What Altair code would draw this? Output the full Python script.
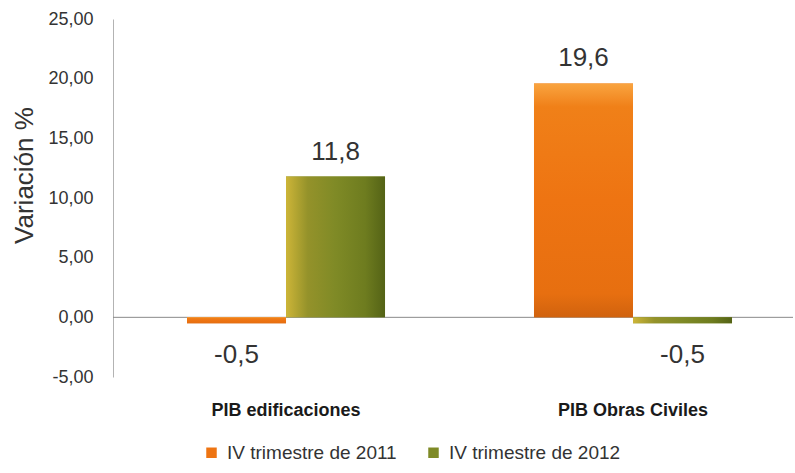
import altair as alt
import pandas as pd

categories = ["PIB edificaciones", "PIB Obras Civiles"]
series = ["IV trimestre de 2011", "IV trimestre de 2012"]
values_2011 = [-0.5, 19.6]
values_2012 = [11.8, -0.5]
y_ticks = [-5, 0, 5, 10, 15, 20, 25]
colors = ["#EE7412", "#7E8A26"]

rows = []
for c, v1, v2 in zip(categories, values_2011, values_2012):
    for s, v in zip(series, [v1, v2]):
        rows.append({"cat": c, "serie": s, "val": v,
                     "lbl": f"{v:.1f}".replace(".", ",")})
df = pd.DataFrame(rows)

FONT = "Liberation Sans"
TXT = "#333333"
W, H = 680, 358

x_enc = alt.X("cat:N", sort=categories, title=None,
              scale=alt.Scale(domain=categories, paddingInner=0.0778,
                              paddingOuter=0.01875, align=1),
              axis=alt.Axis(labelFontWeight="bold", labelFont=FONT, labelFontSize=18,
                            labelColor="#1a1a1a", labelPadding=24, domain=False,
                            ticks=False, labelAngle=0, labelLimit=400))
xo_enc = alt.XOffset("serie:N", sort=series,
                     scale=alt.Scale(domain=series, paddingInner=0, paddingOuter=0.616))
y_enc = alt.Y("val:Q", scale=alt.Scale(domain=[-5, 25], nice=False),
              axis=alt.Axis(values=y_ticks, grid=False, ticks=False,
                            labelExpr="(datum.value < 0 ? '-' : '') + replace(format(abs(datum.value), '.2f'), '.', ',')",
                            labelFont=FONT, labelFontSize=18, labelColor=TXT, labelPadding=20,
                            domainColor="#b3b3b3", domainWidth=1,
                            title="Variación %", titleFont=FONT, titleFontSize=26,
                            titleFontWeight="normal", titleColor=TXT,
                            titleX=-89, titleY=156, titleBaseline="middle", titleAngle=-90))

base = alt.Chart(df)

zero = alt.Chart(pd.DataFrame({"z": [0]})).mark_rule(color="#8a8a8a", strokeWidth=1).encode(
    y=alt.Y("z:Q"))

bars = base.mark_bar().encode(
    x=x_enc, xOffset=xo_enc, y=y_enc,
    color=alt.Color("serie:N", sort=series,
                    scale=alt.Scale(domain=series, range=colors),
                    legend=alt.Legend(title=None, orient="none", direction="horizontal",
                                      legendX=89, legendY=424, symbolType="square",
                                      symbolSize=110, symbolStrokeWidth=0,
                                      labelFont=FONT, labelFontSize=19, labelColor=TXT,
                                      labelOffset=6, columnPadding=27, padding=0,
                                      labelLimit=300)))

grad_orange = alt.Gradient(
    gradient="linear", x1=0, x2=0, y1=0, y2=1,
    stops=[alt.GradientStop(color="#F9A440", offset=0),
           alt.GradientStop(color="#F08018", offset=0.1),
           alt.GradientStop(color="#EE7412", offset=0.5),
           alt.GradientStop(color="#E76F10", offset=0.9),
           alt.GradientStop(color="#D0620E", offset=1)])
grad_green = alt.Gradient(
    gradient="linear", x1=0, x2=1, y1=0, y2=0,
    stops=[alt.GradientStop(color="#CDB538", offset=0),
           alt.GradientStop(color="#94922A", offset=0.22),
           alt.GradientStop(color="#7F8A26", offset=0.5),
           alt.GradientStop(color="#6E7C1F", offset=0.8),
           alt.GradientStop(color="#546316", offset=1)])

over1 = base.transform_filter(alt.datum.serie == series[0]).mark_bar(fill=grad_orange).encode(
    x=x_enc, xOffset=xo_enc, y=y_enc)
over2 = base.transform_filter(alt.datum.serie == series[1]).mark_bar(fill=grad_green).encode(
    x=x_enc, xOffset=xo_enc, y=y_enc)

txt_pos = base.transform_filter(alt.datum.val >= 0).mark_text(
    font=FONT, fontSize=26, color=TXT, baseline="alphabetic", dy=-17).encode(
    x=x_enc, xOffset=xo_enc, y=y_enc, text="lbl:N")
txt_neg = base.transform_filter(alt.datum.val < 0).mark_text(
    font=FONT, fontSize=26, color=TXT, baseline="alphabetic", dy=40).encode(
    x=x_enc, xOffset=xo_enc, y=y_enc, text="lbl:N")

chart = alt.layer(zero, bars, over1, over2, txt_pos, txt_neg).properties(
    width=W, height=H,
    autosize=alt.AutoSizeParams(type="none"),
    padding={"left": 113, "top": 19, "right": 2, "bottom": 96},
    background="white",
).configure_view(stroke=None)

chart.save("out.html", embed_options={"renderer": "svg", "actions": False})
